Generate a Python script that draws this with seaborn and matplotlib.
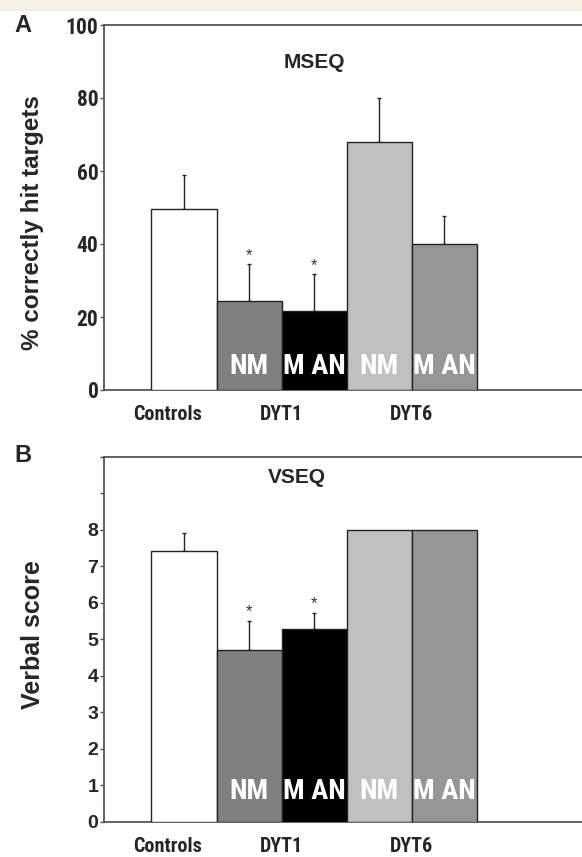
import numpy as np
import pandas as pd
import matplotlib.pyplot as plt
import seaborn as sns

# bar groups, in drawing order
groups = ["Controls", "DYT1 NM", "DYT1 M AN", "DYT6 NM", "DYT6 M AN"]
bar_text = ["", "NM", "M AN", "NM", "M AN"]
colors = ["#ffffff", "#808080", "#000000", "#c0c0c0", "#969696"]
starred = [False, True, True, False, False]

# MSEQ: % correctly hit targets (mean, upper SE)
mseq_mean = [49.5, 24.5, 21.7, 68.0, 40.0]
mseq_err = [9.5, 10.0, 10.0, 12.0, 7.7]

# VSEQ: verbal score (mean, upper SE)
vseq_mean = [7.42, 4.7, 5.28, 8.0, 8.0]
vseq_err = [0.5, 0.8, 0.44, 0.0, 0.0]

xtick_labels = ["Controls", "DYT1", "DYT6"]

sns.set_style("white")
narrow = ["Roboto Condensed", "DejaVu Sans"]
arial = "Liberation Sans"

fig = plt.figure(figsize=(5.82, 8.57), dpi=100)
fig.add_artist(plt.Rectangle((0, 1 - 10 / 857), 1, 10 / 857, transform=fig.transFigure,
                             color="#f5f0e2", zorder=0))


def draw_panel(ax, means, errs, ylim, yticks, ylabels, title, title_xy, text_y, tick_font, tick_size):
    df = pd.DataFrame({"group": groups, "value": means})
    sns.barplot(data=df, x="group", y="value", hue="group", palette=colors, width=1.0,
                edgecolor="#222222", linewidth=1.0, legend=False, errorbar=None, ax=ax, zorder=3)
    for i, (m, e) in enumerate(zip(means, errs)):
        if e > 0:
            ax.errorbar(i, m, yerr=[[0], [e]], fmt="none", ecolor="#222222", elinewidth=1.0,
                        capsize=1.5, capthick=1.0, zorder=2)
        if starred[i]:
            ax.annotate("*", (i, m + e), xytext=(0, 1), textcoords="offset points",
                        ha="center", va="bottom", fontsize=12, color="#333333", family=arial)
        if bar_text[i]:
            ax.text(i, text_y, bar_text[i], color="white", ha="center", va="center",
                    fontsize=20.5, fontweight="bold", family=narrow, zorder=5)
    ax.set_xlim(-1.23, 6.12)
    ax.set_ylim(*ylim)
    ax.set_xticks([-0.25, 1.5, 3.5], xtick_labels, fontsize=14.5, fontweight="bold", family=narrow)
    ax.set_yticks(yticks, ylabels, fontsize=tick_size, fontweight="bold", family=tick_font)
    ax.tick_params(axis="x", length=0, pad=11)
    ax.tick_params(axis="y", left=True, length=3, width=1, color="#555555", pad=1)
    ax.set_xlabel("")
    ax.set_ylabel("")
    for side in ["left", "top", "bottom"]:
        ax.spines[side].set_color("#555555")
        ax.spines[side].set_linewidth(1.3)
    ax.spines["right"].set_visible(False)
    ax.text(title_xy[0], title_xy[1], title, ha="center", va="center", fontsize=15,
            fontweight="bold", family=arial)


axA = fig.add_axes([104 / 582, 1 - 390 / 857, 1 - 104 / 582, 365 / 857])
draw_panel(axA, mseq_mean, mseq_err, (0, 100), [0, 20, 40, 60, 80, 100],
           ["0", "20", "40", "60", "80", "100"], "MSEQ", (2.0, 89.6), 6.4, narrow, 15.5)

axB = fig.add_axes([104 / 582, 1 - 821.7 / 857, 1 - 104 / 582, 365 / 857])
draw_panel(axB, vseq_mean, vseq_err, (0, 10), list(range(11)),
           [str(v) for v in range(9)] + ["", ""], "VSEQ", (1.74, 9.44), 0.82, arial, 14)

fig.text(23 / 582, 1 - 25 / 857, "A", ha="center", va="center", fontsize=17, fontweight="bold", family=arial)
fig.text(23 / 582, 1 - 456 / 857, "B", ha="center", va="center", fontsize=17, fontweight="bold", family=arial)
fig.text(33 / 582, 1 - 223 / 857, "% correctly hit targets", rotation=90, ha="center", va="center",
         fontsize=17.5, fontweight="bold", family=arial)
fig.text(33 / 582, 1 - 635 / 857, "Verbal score", rotation=90, ha="center", va="center",
         fontsize=18, fontweight="bold", family=arial)

fig.savefig("out.png", dpi=100)
